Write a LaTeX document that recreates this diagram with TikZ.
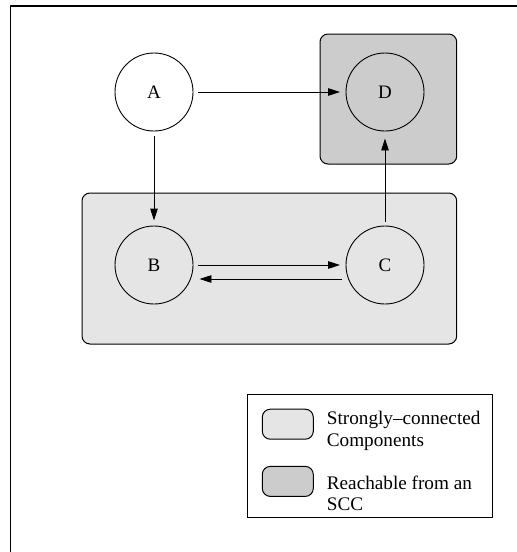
\documentclass[tikz,border=0pt]{standalone}
\usepackage{fontspec}
\setmainfont{Liberation Serif}
\usetikzlibrary{arrows.meta}
\definecolor{sccfill}{HTML}{E5E5E5}
\definecolor{reachfill}{HTML}{CCCCCC}
\tikzset{
  vertex/.style={circle, draw, line width=0.9pt, minimum size=78pt, inner sep=0pt,
    font=\fontsize{19}{22}\selectfont},
  region/.style={draw, line width=1pt, rounded corners=8pt},
  arr/.style={-{Triangle[length=12pt,width=7.5pt]}, line width=0.9pt},
  swatch/.style={draw, line width=1pt, rounded corners=8pt, minimum width=51pt,
    minimum height=30pt, inner sep=0pt},
  legendtext/.style={anchor=base west, inner sep=0pt, font=\fontsize{19.2}{22}\selectfont}
}
\begin{document}
\begin{tikzpicture}[x=1pt, y=-1pt]
\useasboundingbox (0,0) rectangle (517,552);
% page frame
\draw[line width=1.3pt] (10.5,553) -- (10.5,6) -- (518,6);
% component regions
\draw[region, fill=sccfill] (82,193) rectangle (456.7,344);
\draw[region, fill=reachfill] (320,34) rectangle (456.7,164);
% vertices
\node[vertex] (a) at (154,92) {A};
\node[vertex] (d) at (385,92) {D};
\node[vertex] (b) at (154,265) {B};
\node[vertex] (c) at (385,265) {C};
% edges
\draw[arr, shorten <=5pt, shorten >=5.5pt] (a.east) -- (d.west);
\draw[arr, shorten <=5pt, shorten >=5pt] (a.south) -- (b.north);
\draw[arr, shorten <=4pt, shorten >=7pt] (c.north) -- (d.south);
\draw[arr, shorten <=5pt, shorten >=5.5pt] (b.east) -- (c.west);
\draw[arr, shorten <=4pt, shorten >=6pt] ([yshift=-14pt]c.west) -- ([yshift=-14pt]b.east);
% legend
\draw[line width=1pt] (247.7,394.3) rectangle (492.7,517.3);
\node[swatch, fill=sccfill] (s1) at (287.8,424.2) {};
\node[swatch, fill=reachfill] (s2) at (287.8,481.4) {};
\node[legendtext] (t1) at (326.7,424) {Strongly--connected};
\node[legendtext] (t2) at (326.7,446) {Components};
\node[legendtext] (t3) at (326.7,489) {Reachable from an};
\node[legendtext] (t4) at (326.7,510.5) {SCC};
\end{tikzpicture}
\end{document}
